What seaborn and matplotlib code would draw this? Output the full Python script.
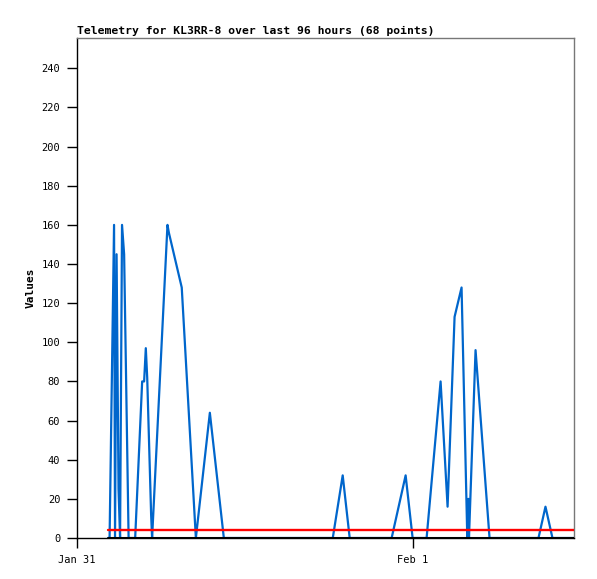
import matplotlib
matplotlib.use("Agg")
import matplotlib.pyplot as plt
import seaborn as sns
import pandas as pd

# ---- data (hours after Jan 31 00:00) ----
hours = [2.22, 2.33, 2.65, 2.72, 2.83, 2.97, 3.08, 3.22, 3.37, 3.69,
         4.16, 4.66, 4.80, 4.92, 5.02, 5.30, 5.37, 6.47, 6.57, 7.49,
         8.50, 9.50, 10.50, 12.0, 14.0, 16.0, 18.29, 19.0, 19.5, 21.0,
         22.5, 23.5, 24.0, 25.0, 26.0, 26.5, 27.0, 27.5, 27.91, 27.98,
         28.03, 28.5, 29.5, 31.0, 33.0, 33.5, 34.0, 35.54]
values = [0, 0, 160, 0, 145, 25, 0, 160, 145, 0,
          0, 80, 80, 97, 82, 12, 0, 160, 156, 128,
          0, 64, 0, 0, 0, 0, 0, 32, 0, 0,
          0, 32, 0, 0, 80, 16, 113, 128, 0, 20,
          0, 96, 0, 0, 0, 16, 0, 0]

limit_hours = [2.22, 35.54]
limit_values = [4, 4]
base_values = [0, 0]

x_ticks = [0, 24]
x_tick_labels = ["Jan 31", "Feb 1"]
y_ticks = [0, 20, 40, 60, 80, 100, 120, 140, 160, 180, 200, 220, 240]

title = "Telemetry for KL3RR-8 over last 96 hours (68 points)"
y_label = "Values"

# ---- plotting ----
sns.set_theme(style="white")
plt.rcParams["font.family"] = ["DejaVu Sans Mono", "DejaVu Sans"]
plt.rcParams["text.color"] = "black"
plt.rcParams["axes.labelcolor"] = "black"
plt.rcParams["xtick.color"] = "black"
plt.rcParams["ytick.color"] = "black"

fig = plt.figure(figsize=(5.97, 5.79), dpi=100)
ax = fig.add_axes([77 / 597, (579 - 538) / 579, (574 - 77) / 597, (538 - 38) / 579])

df = pd.DataFrame({"hours": hours, "value": values})
sns.lineplot(data=df, x="hours", y="value", color="#0066cc", linewidth=1.6,
             ax=ax, estimator=None, sort=False, zorder=2)

lim = pd.DataFrame({"hours": limit_hours, "limit": limit_values, "base": base_values})
sns.lineplot(data=lim, x="hours", y="limit", color="#ff0000", linewidth=1.7,
             ax=ax, estimator=None, zorder=3)
sns.lineplot(data=lim, x="hours", y="base", color="#000000", linewidth=2.2,
             ax=ax, estimator=None, zorder=4)

ax.set_xlim(0, 35.54)
ax.set_ylim(0, 255.5)
ax.set_xticks(x_ticks)
ax.set_xticklabels(x_tick_labels)
ax.set_yticks(y_ticks)
ax.set_yticklabels([str(v) for v in y_ticks])
ax.tick_params(axis="both", which="major", direction="out", length=7, width=1,
               color="black", labelcolor="black", labelsize=7.5, pad=5,
               left=True, bottom=True)

ax.set_xlabel("")
ax.set_ylabel(y_label, fontsize=8, fontweight="bold", labelpad=4, color="black")
ax.set_title(title, fontsize=8.2, fontweight="bold", loc="left", pad=3, color="black")

for side in ["left", "bottom"]:
    ax.spines[side].set_color("black")
    ax.spines[side].set_linewidth(1)
for side in ["top", "right"]:
    ax.spines[side].set_color("#777777")
    ax.spines[side].set_linewidth(1)

fig.savefig("out.png", dpi=100, facecolor="white")
